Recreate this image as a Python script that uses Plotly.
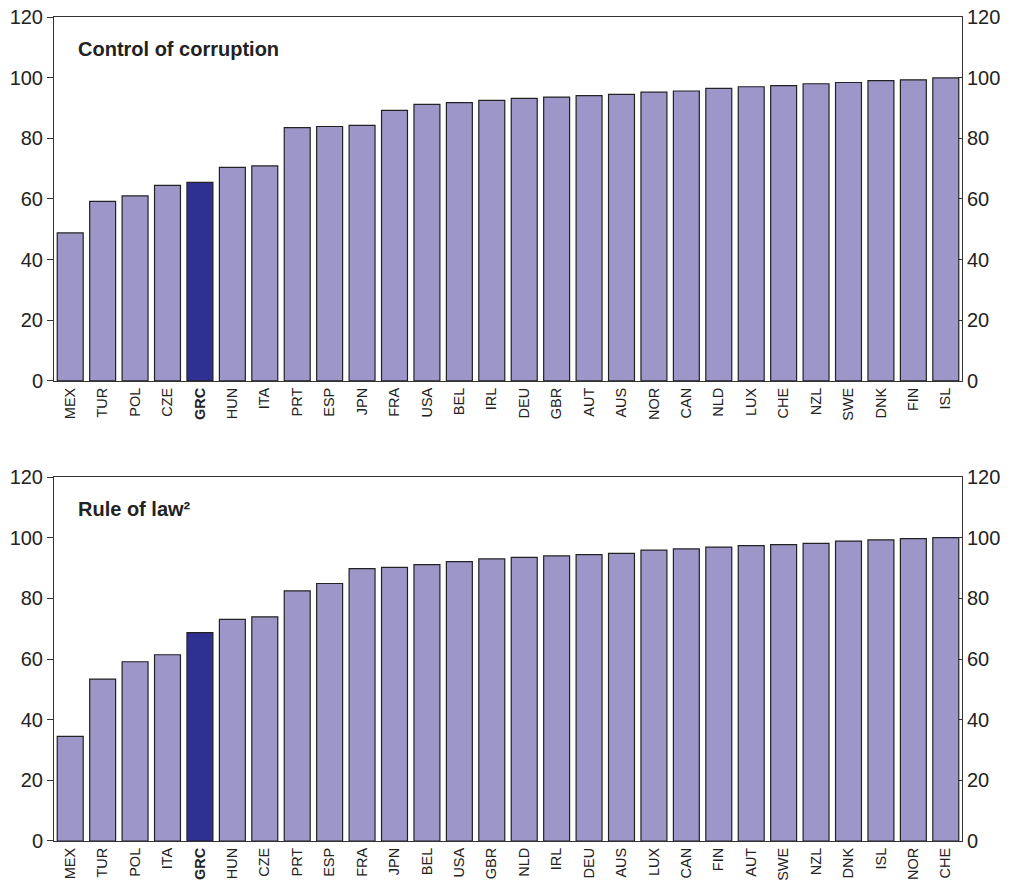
import plotly.graph_objects as go

cc_countries = ["MEX","TUR","POL","CZE","GRC","HUN","ITA","PRT","ESP","JPN","FRA","USA","BEL","IRL",
                "DEU","GBR","AUT","AUS","NOR","CAN","NLD","LUX","CHE","NZL","SWE","DNK","FIN","ISL"]
cc_values = [48.8,59.2,61.0,64.5,65.5,70.4,70.9,83.5,83.9,84.3,89.2,91.2,91.8,92.5,
             93.2,93.6,94.1,94.5,95.2,95.6,96.5,97.0,97.4,98.0,98.4,99.0,99.3,99.9]

rl_countries = ["MEX","TUR","POL","ITA","GRC","HUN","CZE","PRT","ESP","FRA","JPN","BEL","USA","GBR",
                "NLD","IRL","DEU","AUS","LUX","CAN","FIN","AUT","SWE","NZL","DNK","ISL","NOR","CHE"]
rl_values = [34.5,53.4,59.1,61.4,68.7,73.1,73.9,82.5,84.9,89.8,90.2,91.1,92.1,93.0,
             93.5,94.0,94.4,94.8,95.9,96.3,96.9,97.4,97.7,98.1,98.9,99.3,99.7,100.0]

titles = ["Control of corruption", "Rule of law²"]
highlight = "GRC"
y_ticks = [0, 20, 40, 60, 80, 100, 120]

LIGHT = "#9D97C9"
DARK = "#2E3192"
LINE = "#333333"
FONT = "Liberation Sans, Arial, sans-serif"

fig = go.Figure()

H_TOP = 0.5583
H_BOT = 0.4417
domains = [[H_TOP, 1.0], [0.0, H_BOT]]
datasets = [(cc_countries, cc_values), (rl_countries, rl_values)]

for i, (cats, vals) in enumerate(datasets):
    xa = "x" if i == 0 else "x2"
    ya = "y" if i == 0 else "y3"
    colors = [DARK if c == highlight else LIGHT for c in cats]
    fig.add_trace(go.Bar(
        x=cats, y=vals, xaxis=xa, yaxis=ya,
        marker=dict(color=colors, line=dict(color="#222222", width=1.2)),
        showlegend=False, hoverinfo="x+y",
    ))
    ya_r = "y2" if i == 0 else "y4"
    fig.add_trace(go.Bar(x=cats, y=[None]*len(cats), xaxis=xa, yaxis=ya_r,
                         showlegend=False, hoverinfo="skip"))

def xaxis_def(cats, dom_anchor):
    return dict(
        domain=[0, 1], anchor=dom_anchor, automargin=False, ticklabeloverflow="allow",
        type="category", categoryorder="array", categoryarray=cats,
        tickmode="array", tickvals=cats,
        ticktext=[f"<b>{c}</b>" if c == highlight else c for c in cats],
        tickangle=-90, tickfont=dict(family=FONT, size=14.5, color="#222222"),
        showline=True, linecolor=LINE, linewidth=1, mirror=True,
        ticks="", showgrid=False, zeroline=False, fixedrange=True,
    )

def yaxis_left(dom, anchor):
    return dict(
        domain=dom, anchor=anchor, range=[0, 120], tickvals=y_ticks, automargin=False,
        ticklabeloverflow="allow",
        tickfont=dict(family=FONT, size=20, color="#222222"),
        ticks="outside", ticklen=6, tickcolor=LINE,
        showline=True, linecolor=LINE, linewidth=1,
        showgrid=False, zeroline=False, fixedrange=True,
    )

def yaxis_right(overlay, anchor):
    return dict(
        overlaying=overlay, anchor=anchor, side="right", range=[0, 120], tickvals=y_ticks,
        automargin=False, ticklabeloverflow="allow",
        tickfont=dict(family=FONT, size=20, color="#222222"),
        ticks="inside", ticklen=4, tickcolor=LINE,
        showline=True, linecolor=LINE, linewidth=1,
        showgrid=False, zeroline=False, fixedrange=True,
    )

# page body has an 8px default margin; compensate so the plot lands where the reference has it
fig.update_layout(
    width=1007, height=874,
    margin=dict(l=46, r=53, t=9, b=41),
    paper_bgcolor="white", plot_bgcolor="white",
    bargap=0.2,
    font=dict(family=FONT, color="#222222"),
    xaxis=xaxis_def(cc_countries, "y"),
    xaxis2=xaxis_def(rl_countries, "y3"),
    yaxis=yaxis_left(domains[0], "x"),
    yaxis2=yaxis_right("y", "x"),
    yaxis3=yaxis_left(domains[1], "x2"),
    yaxis4=yaxis_right("y3", "x2"),
)

for xr, yr, t in [("x domain", "y domain", titles[0]), ("x2 domain", "y3 domain", titles[1])]:
    fig.add_annotation(text=f"<b>{t}</b>", xref=xr, yref=yr,
                       x=0.024, y=0.912, xanchor="left", yanchor="middle", showarrow=False,
                       font=dict(family=FONT, size=20, color="#222222"))

fig.write_html("out.html")
